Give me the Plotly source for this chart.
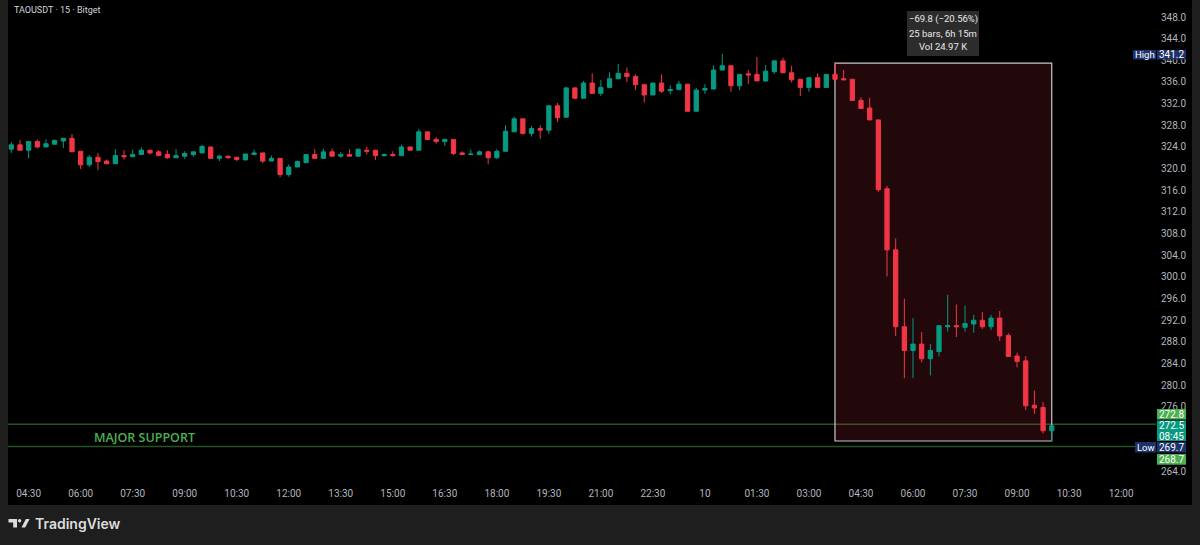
import pandas as pd
import plotly.graph_objects as go

# ---------------- data ----------------
start_time = "2025-06-09 04:00"
opens = [323.6, 324.4, 323.4, 325.0, 324.0, 324.5, 325.1, 325.6, 323.2, 320.7,
         322.1, 321.4, 320.9, 322.4, 322.2, 322.6, 323.4, 323.1, 322.6, 322.0,
         322.3, 322.6, 322.9, 324.0, 321.9, 322.3, 322.1, 321.6, 322.6, 322.9,
         321.4, 321.9, 318.9, 320.3, 321.1, 322.6, 321.9, 323.1, 322.3, 322.6,
         322.3, 323.4, 323.4, 322.4, 322.6, 322.4, 324.0, 323.4, 326.8, 325.4,
         325.0, 325.4, 322.9, 322.6, 322.6, 323.1, 322.0, 323.2, 326.8, 329.2,
         326.5, 327.4, 327.1, 331.6, 329.5, 334.9, 333.0, 335.8, 333.9, 335.0,
         336.6, 337.6, 337.0, 335.5, 333.6, 335.8, 334.4, 334.6, 335.6, 330.6,
         334.5, 334.7, 338.2, 339.0, 335.3, 337.5, 337.4, 336.2, 337.9, 339.9,
         337.7, 336.5, 335.0, 336.8, 335.0, 337.4, 336.6, 336.5, 332.6, 331.2,
         329.0, 316.3, 305.0, 290.8, 286.4, 287.6, 284.9, 286.2, 290.8, 291.0,
         290.7, 291.3, 292.0, 290.8, 292.4, 289.2, 285.4, 284.5, 276.3, 275.9,
         271.6]
highs = [324.9, 325.3, 325.0, 325.4, 325.4, 325.4, 325.6, 326.4, 323.2, 322.5,
         322.9, 321.7, 323.6, 323.4, 323.5, 323.9, 323.4, 323.4, 323.4, 323.6,
         323.2, 323.1, 324.4, 324.0, 322.6, 322.4, 322.1, 322.7, 323.5, 322.9,
         322.4, 321.9, 320.8, 321.5, 322.6, 323.6, 323.7, 323.7, 323.1, 323.6,
         323.6, 324.0, 323.4, 322.8, 323.2, 324.4, 324.0, 327.3, 326.8, 325.8,
         325.5, 325.4, 323.2, 323.5, 323.3, 323.3, 323.6, 328.0, 329.6, 329.2,
         327.9, 328.0, 331.7, 332.1, 335.1, 335.1, 336.2, 337.6, 336.4, 337.8,
         339.3, 338.7, 337.4, 335.5, 335.8, 337.4, 335.4, 336.2, 335.6, 334.9,
         335.6, 339.1, 341.2, 339.0, 337.4, 338.2, 340.6, 339.1, 339.9, 340.5,
         339.0, 336.5, 336.8, 337.6, 337.4, 339.6, 338.2, 336.5, 333.2, 333.1,
         329.0, 316.8, 307.1, 296.0, 292.4, 289.8, 287.6, 291.0, 296.7, 294.9,
         294.7, 293.0, 293.5, 293.0, 293.7, 289.6, 286.0, 285.4, 279.0, 276.9,
         272.5]
lows = [322.9, 323.4, 321.9, 323.7, 324.0, 324.5, 323.8, 323.1, 319.9, 320.3,
        319.7, 320.9, 320.9, 321.7, 322.2, 322.6, 322.6, 322.3, 321.8, 322.0,
        321.8, 322.2, 322.9, 321.9, 321.4, 321.9, 321.4, 321.6, 322.6, 321.0,
        321.4, 318.4, 318.5, 320.3, 321.1, 321.9, 321.9, 322.3, 322.0, 322.3,
        322.3, 322.6, 321.6, 322.2, 322.2, 322.4, 323.4, 323.4, 325.4, 324.6,
        324.2, 322.5, 322.6, 322.6, 322.6, 320.8, 321.8, 323.2, 326.8, 326.3,
        325.9, 325.5, 326.4, 328.6, 329.5, 332.8, 333.0, 333.9, 333.4, 334.8,
        336.5, 336.0, 334.5, 332.2, 333.6, 334.0, 333.7, 334.6, 330.6, 330.6,
        333.8, 334.7, 338.2, 334.2, 334.5, 335.6, 336.2, 336.0, 337.5, 337.7,
        335.9, 333.4, 334.2, 334.8, 335.0, 336.5, 336.4, 332.6, 331.1, 329.0,
        315.7, 300.1, 289.1, 281.3, 281.3, 284.2, 281.8, 285.3, 289.9, 288.9,
        289.9, 289.7, 290.4, 290.2, 288.2, 285.3, 283.3, 275.4, 274.7, 271.1,
        269.7]
closes = [324.4, 323.4, 325.0, 324.0, 324.6, 325.2, 325.6, 323.1, 320.7, 322.1,
          321.3, 320.9, 322.4, 322.2, 322.6, 323.4, 322.9, 322.4, 322.0, 322.4,
          322.8, 323.1, 324.1, 321.9, 322.3, 322.0, 321.7, 322.7, 322.9, 321.4,
          321.9, 318.9, 320.3, 321.3, 322.6, 321.9, 323.1, 322.3, 322.6, 322.3,
          323.6, 323.2, 322.4, 322.6, 322.4, 324.0, 323.4, 326.8, 325.4, 325.0,
          325.4, 322.8, 322.6, 322.7, 323.1, 322.0, 323.2, 326.9, 329.2, 326.5,
          327.4, 327.1, 331.6, 329.4, 334.9, 333.0, 335.8, 333.9, 335.0, 336.6,
          337.6, 337.0, 335.5, 333.6, 335.8, 334.3, 334.6, 335.6, 330.6, 334.5,
          334.8, 338.2, 339.0, 335.3, 337.4, 337.3, 336.2, 338.0, 339.9, 337.7,
          336.4, 335.0, 336.8, 335.0, 337.4, 336.5, 336.4, 332.6, 331.1, 329.0,
          316.1, 305.0, 290.8, 286.4, 287.6, 284.9, 286.4, 291.0, 291.0, 290.8,
          291.4, 292.0, 290.8, 292.4, 289.1, 285.3, 284.4, 276.2, 275.8, 271.6,
          272.5]

# price-scale labels that are visible (272.0 / 268.0 are covered by the price tags)
price_ticks = [264, 276, 280, 284, 288, 292, 296, 300, 304, 308, 312,
               316, 320, 324, 328, 332, 336, 340, 344, 348]
time_tick_vals = ["2025-06-09 04:30", "2025-06-09 06:00", "2025-06-09 07:30",
                  "2025-06-09 09:00", "2025-06-09 10:30", "2025-06-09 12:00",
                  "2025-06-09 13:30", "2025-06-09 15:00", "2025-06-09 16:30",
                  "2025-06-09 18:00", "2025-06-09 19:30", "2025-06-09 21:00",
                  "2025-06-09 22:30", "2025-06-10 00:00", "2025-06-10 01:30",
                  "2025-06-10 03:00", "2025-06-10 04:30", "2025-06-10 06:00",
                  "2025-06-10 07:30", "2025-06-10 09:00", "2025-06-10 10:30",
                  "2025-06-10 12:00"]
time_tick_text = ["04:30", "06:00", "07:30", "09:00", "10:30", "12:00", "13:30",
                  "15:00", "16:30", "18:00", "19:30", "21:00", "22:30", "10",
                  "01:30", "03:00", "04:30", "06:00", "07:30", "09:00", "10:30",
                  "12:00"]

support_levels = [272.8, 268.7]
measure_top = 339.5
measure_bottom = 269.7
measure_start_bar = 95
high_value = 341.2
low_value = 269.7
last_price = 272.5
countdown = "08:45"
measure_lines = ["−69.8 (−20.56%)", "25 bars, 6h 15m", "Vol 24.97 K"]
title_text = "TAOUSDT · 15 · Bitget"

# ---------------- figure ----------------
times = pd.date_range(start_time, periods=len(opens), freq="15min")
bar = pd.Timedelta(minutes=15)

W, H = 1200, 545
ML, MR, MT, MB = 8, 73, 0, 65
PW, PH = W - ML - MR, H - MT - MB


def xp(px):
    return (px - ML) / PW


def yp(py):
    return (MT + PH - py) / PH


UP = "#089981"
DOWN = "#f23645"
AXIS_TXT = "#b2b5be"
NAVY = "#1c3268"
GREEN_LBL = "#4caf50"
FONT = "Roboto"

fig = go.Figure()
fig.add_trace(go.Candlestick(
    x=times, open=opens, high=highs, low=lows, close=closes,
    increasing=dict(line=dict(color=UP, width=1), fillcolor=UP),
    decreasing=dict(line=dict(color=DOWN, width=1), fillcolor=DOWN),
    whiskerwidth=0, showlegend=False, hoverinfo="skip",
))

x_start = times[0] - bar * 0.381
x_end = times[0] + bar * 128.68
y_top = 348 + 17 / 5.415
y_bot = 348 - (PH - 17) / 5.415

shapes = []
# black chart panel
shapes.append(dict(type="rect", xref="paper", yref="paper", x0=xp(8), x1=xp(1192),
                   y0=yp(505), y1=yp(0), fillcolor="#000000", line=dict(width=0),
                   layer="below"))
# support lines
for lvl in support_levels:
    shapes.append(dict(type="line", xref="paper", yref="y", x0=0, x1=xp(1156),
                       y0=lvl, y1=lvl, line=dict(color="#275227", width=1.5),
                       layer="below"))
# measure box
shapes.append(dict(type="rect", xref="x", yref="y",
                   x0=times[measure_start_bar], x1=times[-1],
                   y0=measure_bottom, y1=measure_top,
                   fillcolor="rgba(242,54,69,0.14)",
                   line=dict(color="#c8c8c8", width=1.2), layer="below"))
# tooltip box
shapes.append(dict(type="rect", xref="paper", yref="paper", x0=xp(907), x1=xp(979),
                   y0=yp(56), y1=yp(11), fillcolor="#2c2c2c", line=dict(width=0)))


def label_box(x0, x1, y0, y1, color):
    shapes.append(dict(type="rect", xref="paper", yref="paper", x0=xp(x0), x1=xp(x1),
                       y0=yp(y1), y1=yp(y0), fillcolor=color, line=dict(width=0)))


label_box(1133, 1156, 50, 59.5, NAVY)
label_box(1157, 1186, 50, 59.5, NAVY)
label_box(1157, 1186, 409, 419.5, GREEN_LBL)
label_box(1157, 1186, 420.5, 441, UP)
label_box(1135, 1156, 442, 452.5, NAVY)
label_box(1157, 1186, 442, 452.5, NAVY)
label_box(1157, 1186, 454, 464.7, GREEN_LBL)

# TradingView logo
shapes.append(dict(type="path", xref="paper", yref="paper",
                   path=("M {a},{b} L {c},{b} L {c},{d} L {e},{d} L {e},{f} L {a},{f} Z").format(
                       a=xp(8.5), b=yp(519), c=xp(17), d=yp(527.5), e=xp(13.2), f=yp(522.5)),
                   fillcolor="#dcdcdc", line=dict(width=0)))
shapes.append(dict(type="circle", xref="paper", yref="paper", x0=xp(17.9), x1=xp(21.3),
                   y0=yp(522.4), y1=yp(519), fillcolor="#dcdcdc", line=dict(width=0)))
shapes.append(dict(type="path", xref="paper", yref="paper",
                   path="M {},{} L {},{} L {},{} L {},{} Z".format(
                       xp(21.5), yp(527.5), xp(25.2), yp(527.5),
                       xp(29.6), yp(519), xp(25.9), yp(519)),
                   fillcolor="#dcdcdc", line=dict(width=0)))

annotations = []


def txt(text, px, py, size=10, color="#ffffff", xanchor="center", family=FONT, weight=None):
    f = dict(size=size, color=color, family=family)
    if weight:
        f["weight"] = weight
    annotations.append(dict(text=text, xref="paper", yref="paper", x=xp(px), y=yp(py),
                            xanchor=xanchor, yanchor="middle", showarrow=False, font=f))


txt(title_text, 12, 10.5, size=9, color="#d1d4dc", xanchor="left")
for i, line in enumerate(measure_lines):
    txt(line, 943, 19.3 + 13.8 * i, size=9.5, color="#e8e8e8")
txt("High", 1144.5, 54.7, size=9.5)
txt(f"{high_value:.1f}", 1171.5, 54.7, size=10)
txt(f"{support_levels[0]:.1f}", 1171.5, 414.2, size=10)
txt(f"{last_price:.1f}", 1171.5, 425.7, size=10)
txt(countdown, 1171.5, 436, size=10)
txt("Low", 1145.5, 447.2, size=9.5)
txt(f"{low_value:.1f}", 1171.5, 447.2, size=10)
txt(f"{support_levels[1]:.1f}", 1171.5, 459.4, size=10)
txt("MAJOR SUPPORT", 144.5, 437, size=12.5, color=GREEN_LBL, family="Open Sans",
    weight=600)
txt("TradingView", 33, 523.5, size=14, color="#dcdcdc", xanchor="left",
    family="Inter", weight=600)

fig.update_layout(
    width=W, height=H,
    margin=dict(l=ML, r=MR, t=MT, b=MB, pad=0),
    paper_bgcolor="#1e1e1e",
    plot_bgcolor="rgba(0,0,0,0)",
    shapes=shapes,
    annotations=annotations,
    showlegend=False,
    hovermode=False,
    xaxis=dict(
        range=[x_start, x_end], rangeslider=dict(visible=False),
        tickmode="array", tickvals=time_tick_vals, ticktext=time_tick_text,
        showgrid=False, zeroline=False, showline=False, ticks="",
        tickfont=dict(family=FONT, size=10, color=AXIS_TXT),
        ticklabelstandoff=6,
    ),
    yaxis=dict(
        range=[y_bot, y_top], side="right",
        tickmode="array", tickvals=price_ticks,
        ticktext=[f"{v:.1f}" for v in price_ticks],
        showgrid=False, zeroline=False, showline=False, ticks="",
        tickfont=dict(family=FONT, size=10, color=AXIS_TXT),
        ticklabelstandoff=33,
    ),
)

fig.write_html(
    "out.html",
    config={"displayModeBar": False},
    post_script="document.body.style.margin='0px';document.body.style.overflow='hidden';",
)
